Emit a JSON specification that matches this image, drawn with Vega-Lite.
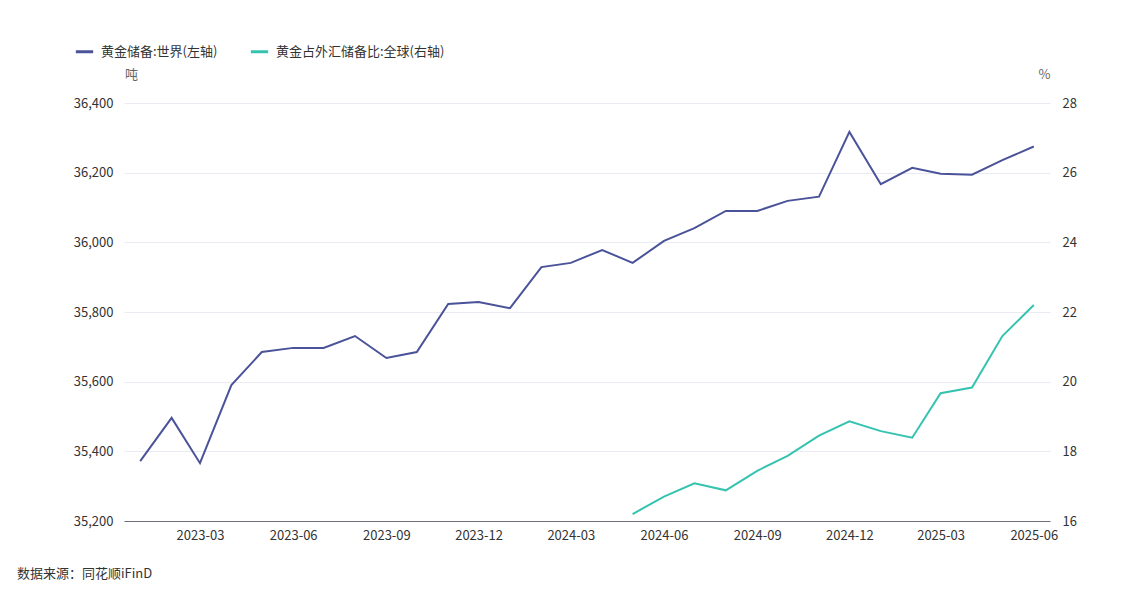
{
  "$schema": "https://vega.github.io/schema/vega-lite/v6.json",
  "autosize": "none",
  "width": 926,
  "height": 418,
  "padding": {"left": 124, "top": 103, "right": 97, "bottom": 77},
  "background": "white",
  "config": {
    "font": "Noto Sans CJK SC",
    "view": {"stroke": null},
    "axis": {"labelFont": "Noto Sans CJK SC", "labelFontSize": 13, "labelColor": "#333333", "titleFont": "Noto Sans CJK SC", "titleFontWeight": "normal", "titleFontSize": 13, "titleColor": "#666666"}
  },
  "title": {"text": "数据来源：同花顺iFinD", "orient": "bottom", "anchor": "start", "frame": "group", "dx": -107, "offset": 26, "fontSize": 13, "fontWeight": "normal", "color": "#333333", "font": "Noto Sans CJK SC"},
  "data": {"values": [
    {"date": "2023-01-01", "series": "黄金储备:世界(左轴)", "value": 35372},
    {"date": "2023-02-01", "series": "黄金储备:世界(左轴)", "value": 35496},
    {"date": "2023-03-01", "series": "黄金储备:世界(左轴)", "value": 35366},
    {"date": "2023-04-01", "series": "黄金储备:世界(左轴)", "value": 35590},
    {"date": "2023-05-01", "series": "黄金储备:世界(左轴)", "value": 35685},
    {"date": "2023-06-01", "series": "黄金储备:世界(左轴)", "value": 35697},
    {"date": "2023-07-01", "series": "黄金储备:世界(左轴)", "value": 35697},
    {"date": "2023-08-01", "series": "黄金储备:世界(左轴)", "value": 35731},
    {"date": "2023-09-01", "series": "黄金储备:世界(左轴)", "value": 35668},
    {"date": "2023-10-01", "series": "黄金储备:世界(左轴)", "value": 35685},
    {"date": "2023-11-01", "series": "黄金储备:世界(左轴)", "value": 35823},
    {"date": "2023-12-01", "series": "黄金储备:世界(左轴)", "value": 35829},
    {"date": "2024-01-01", "series": "黄金储备:世界(左轴)", "value": 35811},
    {"date": "2024-02-01", "series": "黄金储备:世界(左轴)", "value": 35929},
    {"date": "2024-03-01", "series": "黄金储备:世界(左轴)", "value": 35941},
    {"date": "2024-04-01", "series": "黄金储备:世界(左轴)", "value": 35978},
    {"date": "2024-05-01", "series": "黄金储备:世界(左轴)", "value": 35941},
    {"date": "2024-06-01", "series": "黄金储备:世界(左轴)", "value": 36004},
    {"date": "2024-07-01", "series": "黄金储备:世界(左轴)", "value": 36041},
    {"date": "2024-08-01", "series": "黄金储备:世界(左轴)", "value": 36090},
    {"date": "2024-09-01", "series": "黄金储备:世界(左轴)", "value": 36090},
    {"date": "2024-10-01", "series": "黄金储备:世界(左轴)", "value": 36119},
    {"date": "2024-11-01", "series": "黄金储备:世界(左轴)", "value": 36131},
    {"date": "2024-12-01", "series": "黄金储备:世界(左轴)", "value": 36317},
    {"date": "2025-01-01", "series": "黄金储备:世界(左轴)", "value": 36167},
    {"date": "2025-02-01", "series": "黄金储备:世界(左轴)", "value": 36214},
    {"date": "2025-03-01", "series": "黄金储备:世界(左轴)", "value": 36197},
    {"date": "2025-04-01", "series": "黄金储备:世界(左轴)", "value": 36194},
    {"date": "2025-05-01", "series": "黄金储备:世界(左轴)", "value": 36236},
    {"date": "2025-06-01", "series": "黄金储备:世界(左轴)", "value": 36275},
    {"date": "2024-05-01", "series": "黄金占外汇储备比:全球(右轴)", "value": 16.2},
    {"date": "2024-06-01", "series": "黄金占外汇储备比:全球(右轴)", "value": 16.7},
    {"date": "2024-07-01", "series": "黄金占外汇储备比:全球(右轴)", "value": 17.08},
    {"date": "2024-08-01", "series": "黄金占外汇储备比:全球(右轴)", "value": 16.88},
    {"date": "2024-09-01", "series": "黄金占外汇储备比:全球(右轴)", "value": 17.44},
    {"date": "2024-10-01", "series": "黄金占外汇储备比:全球(右轴)", "value": 17.87},
    {"date": "2024-11-01", "series": "黄金占外汇储备比:全球(右轴)", "value": 18.45},
    {"date": "2024-12-01", "series": "黄金占外汇储备比:全球(右轴)", "value": 18.86},
    {"date": "2025-01-01", "series": "黄金占外汇储备比:全球(右轴)", "value": 18.58},
    {"date": "2025-02-01", "series": "黄金占外汇储备比:全球(右轴)", "value": 18.39},
    {"date": "2025-03-01", "series": "黄金占外汇储备比:全球(右轴)", "value": 19.67},
    {"date": "2025-04-01", "series": "黄金占外汇储备比:全球(右轴)", "value": 19.83},
    {"date": "2025-05-01", "series": "黄金占外汇储备比:全球(右轴)", "value": 21.31},
    {"date": "2025-06-01", "series": "黄金占外汇储备比:全球(右轴)", "value": 22.2}
  ]},
  "encoding": {
    "x": {
      "field": "date", "type": "temporal",
      "scale": {"domain": ["2022-12-16", "2025-06-17"]},
      "axis": {
        "title": null, "format": "%Y-%m", "grid": false, "ticks": false,
        "values": ["2023-03-01", "2023-06-01", "2023-09-01", "2023-12-01", "2024-03-01", "2024-06-01", "2024-09-01", "2024-12-01", "2025-03-01", "2025-06-01"],
        "domainColor": "#6e7079", "domainWidth": 1, "labelPadding": 8, "labelFlush": false
      }
    },
    "color": {
      "field": "series", "type": "nominal",
      "scale": {"domain": ["黄金储备:世界(左轴)", "黄金占外汇储备比:全球(右轴)"], "range": ["#4a5399", "#35c3b0"]},
      "legend": {
        "title": null, "orient": "none", "legendX": -50, "legendY": -62, "direction": "horizontal",
        "symbolType": "stroke", "symbolStrokeWidth": 3, "symbolSize": 300,
        "labelFont": "Noto Sans CJK SC", "labelFontSize": 13, "labelColor": "#333333", "labelLimit": 400,
        "columnPadding": 26, "labelOffset": 6
      }
    }
  },
  "layer": [
    {
      "transform": [{"filter": "datum.series === '黄金储备:世界(左轴)'"}],
      "mark": {"type": "line", "strokeWidth": 2},
      "encoding": {
        "y": {
          "field": "value", "type": "quantitative",
          "scale": {"domain": [35200, 36400], "zero": false, "nice": false},
          "axis": {
            "title": "吨", "titleAngle": 0, "titleAlign": "center", "titleBaseline": "bottom", "titleX": 7, "titleY": -22,
            "values": [35200, 35400, 35600, 35800, 36000, 36200, 36400], "format": ",d",
            "domain": false, "ticks": false, "labelPadding": 11,
            "grid": true, "gridColor": "#e9eaf3", "gridWidth": 1
          }
        }
      }
    },
    {
      "transform": [{"filter": "datum.series === '黄金占外汇储备比:全球(右轴)'"}],
      "mark": {"type": "line", "strokeWidth": 2},
      "encoding": {
        "y": {
          "field": "value", "type": "quantitative",
          "scale": {"domain": [16, 28], "zero": false, "nice": false},
          "axis": {
            "orient": "right", "title": "%", "titleAngle": 0, "titleAlign": "center", "titleBaseline": "bottom", "titleX": -6, "titleY": -22,
            "values": [16, 18, 20, 22, 24, 26, 28], "format": "d",
            "domain": false, "ticks": false, "labelPadding": 12, "grid": false
          }
        }
      }
    }
  ],
  "resolve": {"scale": {"y": "independent"}}
}
